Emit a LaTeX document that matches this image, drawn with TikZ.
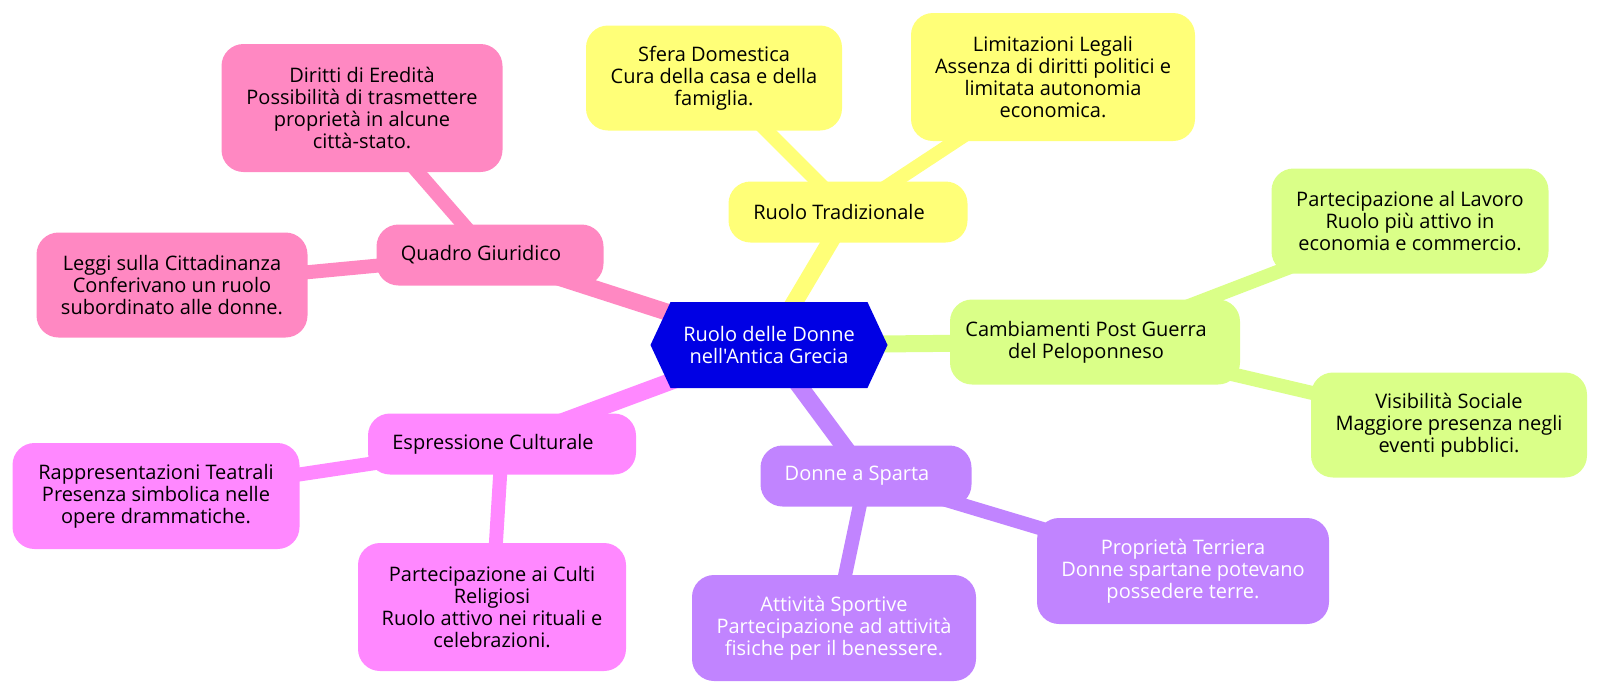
\documentclass[tikz,border=0pt]{standalone}
\usepackage{fontspec}
\setmainfont{Open Sans}[Ligatures=TeXOff]
\usetikzlibrary{shapes.symbols,backgrounds}

\definecolor{rootblue}{RGB}{0,0,228}
\definecolor{yellowsec}{RGB}{255,255,120}
\definecolor{pinksec}{RGB}{255,136,194}
\definecolor{magsec}{RGB}{255,136,255}
\definecolor{purpsec}{RGB}{193,132,255}
\definecolor{greensec}{RGB}{218,255,136}

\tikzset{
	topic/.style={rounded corners=22pt, align=center, inner sep=0pt, font=\fontsize{20}{22}\selectfont, execute at end node={\hspace*{18pt}}},
	leaf/.style={rounded corners=22pt, align=center, inner sep=0pt, font=\fontsize{20}{22}\selectfont},
	rootedge/.style={line width=17pt},
	leafedge/.style={line width=14pt}
}

\begin{document}
\begin{tikzpicture}[x=1pt, y=-1pt]
	\useasboundingbox (0,0) rectangle (1600,694);

	\node[signal, signal to=west and east, signal pointer angle=130, fill=rootblue, text=white, minimum width=237pt, minimum height=86pt, inner sep=0pt, align=center, font=\fontsize{20}{22}\selectfont] (root) at (769,345) {Ruolo delle Donne\\nell'Antica Grecia};

	\node[topic, fill=yellowsec, minimum width=239pt, minimum height=61pt] (rt) at (848,212) {Ruolo Tradizionale};
	\node[leaf, fill=yellowsec, minimum width=256pt, minimum height=105pt] (sd) at (714,78) {Sfera Domestica\\Cura della casa e della\\famiglia.};
	\node[leaf, fill=yellowsec, minimum width=284pt, minimum height=128pt] (ll) at (1053,77) {Limitazioni Legali\\Assenza di diritti politici e\\limitata autonomia\\economica.};

	\node[topic, fill=greensec, minimum width=290pt, minimum height=85pt] (cp) at (1095,342) {Cambiamenti Post Guerra\\del Peloponneso};
	\node[leaf, fill=greensec, minimum width=277pt, minimum height=105pt] (pl) at (1410,221) {Partecipazione al Lavoro\\Ruolo più attivo in\\economia e commercio.};
	\node[leaf, fill=greensec, minimum width=276pt, minimum height=105pt] (vs) at (1449,425) {Visibilità Sociale\\Maggiore presenza negli\\eventi pubblici.};

	\node[topic, fill=purpsec, text=white, minimum width=211pt, minimum height=61pt] (ds) at (866,476) {Donne a Sparta};
	\node[leaf, fill=purpsec, text=white, minimum width=292pt, minimum height=106pt] (pt) at (1183,571) {Proprietà Terriera\\Donne spartane potevano\\possedere terre.};
	\node[leaf, fill=purpsec, text=white, minimum width=284pt, minimum height=106pt] (as) at (834,628) {Attività Sportive\\Partecipazione ad attività\\fisiche per il benessere.};

	\node[topic, fill=magsec, minimum width=268pt, minimum height=61pt] (ec) at (502,444) {Espressione Culturale};
	\node[leaf, fill=magsec, minimum width=287pt, minimum height=106pt] (rtea) at (156,496) {Rappresentazioni Teatrali\\Presenza simbolica nelle\\opere drammatiche.};
	\node[leaf, fill=magsec, minimum width=268pt, minimum height=128pt] (cr) at (492,607) {Partecipazione ai Culti\\Religiosi\\Ruolo attivo nei rituali e\\celebrazioni.};

	\node[topic, fill=pinksec, minimum width=227pt, minimum height=61pt] (qg) at (490,255) {Quadro Giuridico};
	\node[leaf, fill=pinksec, minimum width=281pt, minimum height=128pt] (de) at (362,108) {Diritti di Eredità\\Possibilità di trasmettere\\proprietà in alcune\\città-stato.};
	\node[leaf, fill=pinksec, minimum width=271pt, minimum height=105pt] (lc) at (172,285) {Leggi sulla Cittadinanza\\Conferivano un ruolo\\subordinato alle donne.};

	\begin{pgfonlayer}{background}
		\draw[rootedge, yellowsec] (root.center) -- (rt.center);
		\draw[rootedge, greensec] (root.center) -- (cp.center);
		\draw[rootedge, purpsec] (root.center) -- (ds.center);
		\draw[rootedge, magsec] (root.center) -- (ec.center);
		\draw[rootedge, pinksec] (root.center) -- (qg.center);

		\draw[leafedge, yellowsec] (rt.center) -- (sd.center);
		\draw[leafedge, yellowsec] (rt.center) -- (ll.center);
		\draw[leafedge, greensec] (cp.center) -- (pl.center);
		\draw[leafedge, greensec] (cp.center) -- (vs.center);
		\draw[leafedge, purpsec] (ds.center) -- (pt.center);
		\draw[leafedge, purpsec] (ds.center) -- (as.center);
		\draw[leafedge, magsec] (ec.center) -- (rtea.center);
		\draw[leafedge, magsec] (ec.center) -- (cr.center);
		\draw[leafedge, pinksec] (qg.center) -- (de.center);
		\draw[leafedge, pinksec] (qg.center) -- (lc.center);
	\end{pgfonlayer}
\end{tikzpicture}
\end{document}
